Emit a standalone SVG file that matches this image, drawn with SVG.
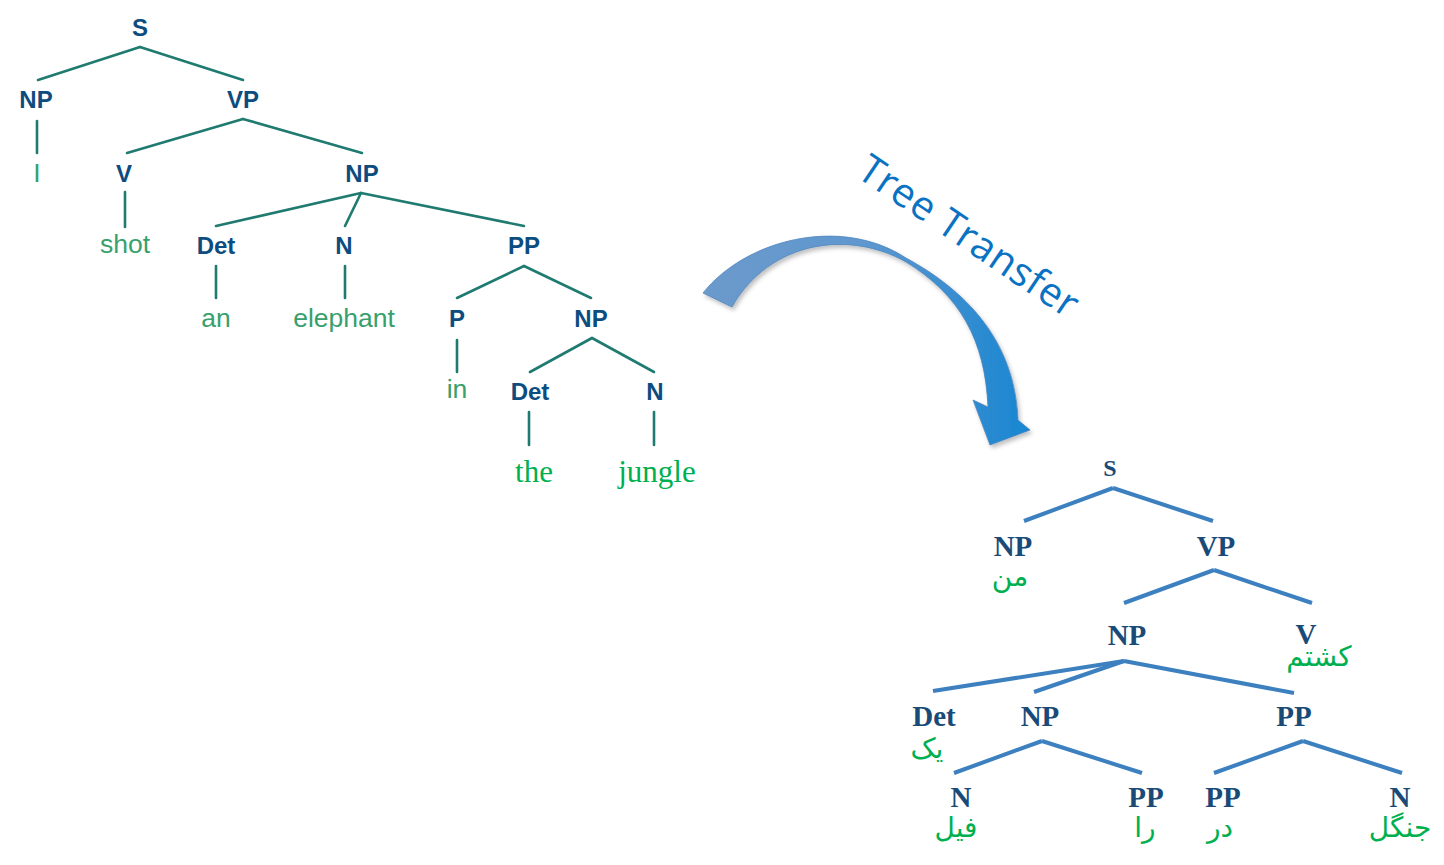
<svg xmlns="http://www.w3.org/2000/svg" width="1444" height="865" viewBox="0 0 1444 865">
<style>
.ll{font-family:"Liberation Sans",Arial,sans-serif;font-weight:bold;font-size:24px;fill:#0c4c7f;text-anchor:middle}
.lw{font-family:"Liberation Sans",Arial,sans-serif;font-size:26.5px;fill:#38a06c;text-anchor:middle}
.lws{font-family:"Liberation Serif","Times New Roman",serif;font-size:31px;fill:#00b050;text-anchor:middle}
.lc line{stroke:#1f7a70;stroke-width:2.6;stroke-linecap:round}
.rl{font-family:"Liberation Serif","Times New Roman",serif;font-weight:bold;font-size:29px;fill:#1a4b78;text-anchor:middle}
.rw{font-family:"DejaVu Sans","Noto Sans",sans-serif;font-size:28px;fill:#00b050;text-anchor:middle}
.rc line{stroke:#3c80c0;stroke-width:4;stroke-linecap:butt}
.tt{font-family:"Open Sans","Liberation Sans",sans-serif;font-size:40px;fill:#0a72c2}
</style>
<defs>
<linearGradient id="ag" x1="700" y1="0" x2="1030" y2="0" gradientUnits="userSpaceOnUse">
<stop offset="0" stop-color="#6c9acb"/>
<stop offset="0.5" stop-color="#5f97cf"/>
<stop offset="1" stop-color="#1786d2"/>
</linearGradient>
<filter id="sh" x="-10%" y="-10%" width="130%" height="130%">
<feDropShadow dx="2" dy="3" stdDeviation="2" flood-color="#000" flood-opacity="0.25"/>
</filter>
</defs>
<rect width="1444" height="865" fill="#fff"/>

<!-- left tree connectors -->
<g id="left-connectors" class="lc">
<line x1="140" y1="47" x2="38" y2="80"/>
<line x1="140" y1="47" x2="243" y2="80"/>
<line x1="37" y1="121" x2="37" y2="153"/>
<line x1="243" y1="119" x2="127" y2="153"/>
<line x1="243" y1="119" x2="362" y2="153"/>
<line x1="125" y1="192" x2="125" y2="227"/>
<line x1="361" y1="193" x2="216" y2="226"/>
<line x1="361" y1="193" x2="345" y2="226"/>
<line x1="361" y1="193" x2="524" y2="226"/>
<line x1="216" y1="266" x2="216" y2="298"/>
<line x1="345" y1="266" x2="345" y2="298"/>
<line x1="524" y1="266" x2="457" y2="298"/>
<line x1="524" y1="266" x2="591" y2="298"/>
<line x1="457" y1="340" x2="457" y2="372"/>
<line x1="592" y1="338" x2="530" y2="372"/>
<line x1="592" y1="338" x2="654" y2="372"/>
<line x1="529" y1="412" x2="529" y2="445"/>
<line x1="654" y1="412" x2="654" y2="445"/>
</g>

<!-- left tree nodes -->
<g id="L-S"><text class="ll" x="140" y="36">S</text></g>
<g id="L-NP1"><text class="ll" x="36" y="108">NP</text><text class="lw" x="37" y="182">I</text></g>
<g id="L-VP"><text class="ll" x="243" y="108">VP</text></g>
<g id="L-V"><text class="ll" x="124" y="182">V</text><text class="lw" x="125" y="253">shot</text></g>
<g id="L-NP2"><text class="ll" x="362" y="182">NP</text></g>
<g id="L-Det1"><text class="ll" x="216" y="254">Det</text><text class="lw" x="216" y="327">an</text></g>
<g id="L-N1"><text class="ll" x="344" y="254">N</text><text class="lw" x="344" y="327">elephant</text></g>
<g id="L-PP"><text class="ll" x="524" y="254">PP</text></g>
<g id="L-P"><text class="ll" x="457" y="327">P</text><text class="lw" x="457" y="398">in</text></g>
<g id="L-NP3"><text class="ll" x="591" y="327">NP</text></g>
<g id="L-Det2"><text class="ll" x="530" y="400">Det</text><text class="lws" x="534" y="482">the</text></g>
<g id="L-N2"><text class="ll" x="655" y="400">N</text><text class="lws" x="657" y="482">jungle</text></g>

<!-- transfer arrow -->
<g id="arrow">
<path d="M703,293 C745,240 840,215 906,258 C965,290 1015,340 1018,420 L1030,430 L990,445 L973,400 L988,407 C985,340 960,295 906,262 C850,230 770,240 732,307 Z" fill="url(#ag)" stroke="#4f86bd" stroke-width="0.8" filter="url(#sh)"/>
</g>
<g id="label-tree-transfer"><text class="tt" transform="translate(855,176) rotate(34)" textLength="256">Tree Transfer</text></g>

<!-- right tree connectors -->
<g id="right-connectors" class="rc">
<line x1="1113" y1="488" x2="1024" y2="521"/>
<line x1="1113" y1="488" x2="1213" y2="521"/>
<line x1="1214" y1="570" x2="1124" y2="603"/>
<line x1="1214" y1="570" x2="1312" y2="603"/>
<line x1="1124" y1="661" x2="933" y2="691"/>
<line x1="1124" y1="661" x2="1034" y2="692"/>
<line x1="1124" y1="661" x2="1294" y2="693"/>
<line x1="1042" y1="741" x2="954" y2="773"/>
<line x1="1042" y1="741" x2="1142" y2="773"/>
<line x1="1303" y1="741" x2="1214" y2="773"/>
<line x1="1303" y1="741" x2="1402" y2="773"/>
</g>

<!-- right tree nodes -->
<g id="R-S"><text class="rl" x="1110" y="476" style="font-size:24px">S</text></g>
<g id="R-NP"><text class="rl" x="1013" y="556">NP</text><text class="rw" x="1010" y="586">من</text></g>
<g id="R-VP"><text class="rl" x="1216" y="556">VP</text></g>
<g id="R-NP2"><text class="rl" x="1127" y="645">NP</text></g>
<g id="R-V"><text class="rl" x="1306" y="644">V</text><text class="rw" x="1319" y="666">کشتم</text></g>
<g id="R-Det"><text class="rl" x="934" y="726">Det</text><text class="rw" x="927" y="758">یک</text></g>
<g id="R-NP3"><text class="rl" x="1040" y="726">NP</text></g>
<g id="R-PP"><text class="rl" x="1294" y="726">PP</text></g>
<g id="R-N"><text class="rl" x="961" y="807">N</text><text class="rw" x="956" y="837">فیل</text></g>
<g id="R-PP2"><text class="rl" x="1146" y="807">PP</text><text class="rw" x="1145" y="837">را</text></g>
<g id="R-PP3"><text class="rl" x="1223" y="807">PP</text><text class="rw" x="1220" y="837">در</text></g>
<g id="R-N2"><text class="rl" x="1400" y="807">N</text><text class="rw" x="1400" y="837">جنگل</text></g>
</svg>
